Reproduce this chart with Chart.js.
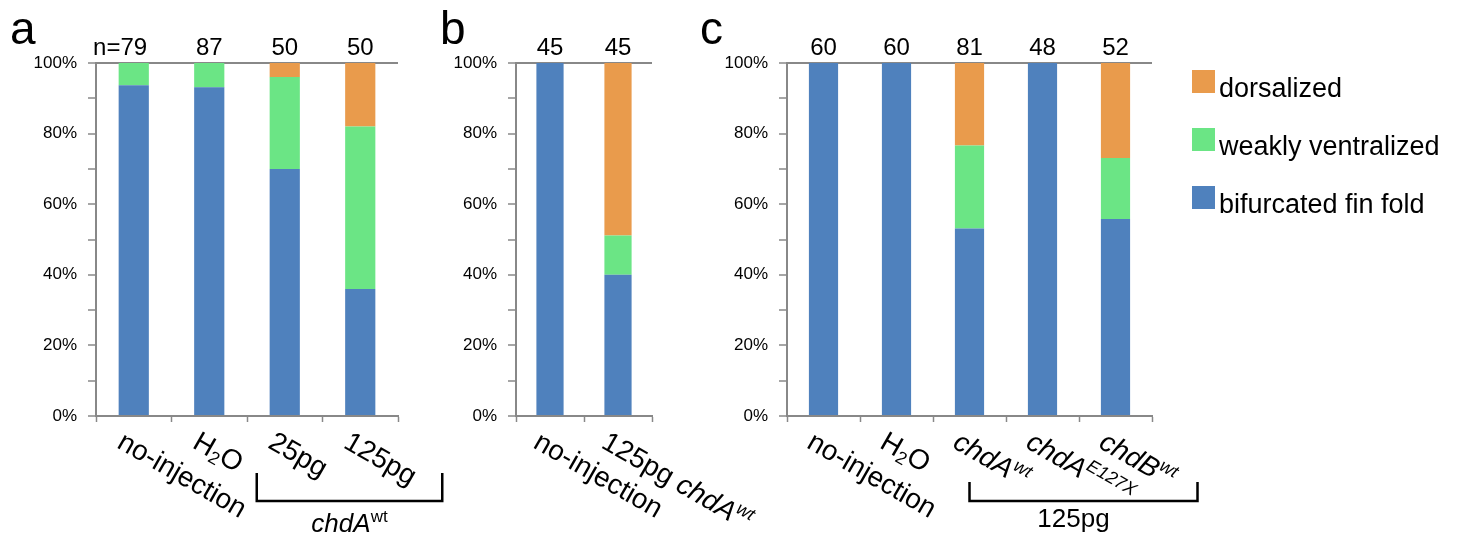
<!DOCTYPE html>
<html>
<head>
<meta charset="utf-8">
<script src="https://cdn.jsdelivr.net/npm/chart.js@4.4.1/dist/chart.umd.min.js"></script>
<style>
  body { margin: 0; background: #fff; width: 1468px; height: 539px; position: relative; overflow: hidden; }
  canvas { position: absolute; top: 0; }
</style>
</head>
<body>
<canvas id="chartA" width="450" height="539" style="left:0px"></canvas>
<canvas id="chartB" width="360" height="539" style="left:430px"></canvas>
<canvas id="chartC" width="778" height="539" style="left:690px"></canvas>
<script>
// series names (bottom to top of each stack)
var seriesNames = ["bifurcated fin fold", "weakly ventralized", "dorsalized"];
var colours = ["#4F81BD", "#6BE585", "#E99B4C"];

// panel a
var catsA = ["no-injection", "H~{2}O", "25pg", "125pg"];
var countsA = ["79", "87", "50", "50"];
var bifurcatedA = [93.7, 93.1, 70, 36];
var weaklyA = [6.3, 6.9, 26, 46];
var dorsalA = [0, 0, 4, 18];

// panel b
var catsB = ["no-injection", "125pg *chdA^{wt}*"];
var countsB = ["45", "45"];
var bifurcatedB = [100, 40];
var weaklyB = [0, 11.1];
var dorsalB = [0, 48.9];

// panel c
var catsC = ["no-injection", "H~{2}O", "*chdA^{wt}*", "*chdA^{E127X}*", "*chdB^{wt}*"];
var countsC = ["60", "60", "81", "48", "52"];
var bifurcatedC = [100, 100, 53.1, 100, 55.8];
var weaklyC = [0, 0, 23.5, 0, 17.3];
var dorsalC = [0, 0, 23.4, 0, 26.9];

var yTicks = [0, 20, 40, 60, 80, 100];

const FONT = '"Liberation Sans", Arial, sans-serif';
const AXIS = "#888888";

// tiny markup: *italic*, ^{sup}, ~{sub}
function parseRich(s) {
    var segs = [], italic = false, script = null, buf = "";
    function push() { if (buf) { segs.push({ t: buf, italic: italic, script: script }); buf = ""; } }
    for (var i = 0; i < s.length; i++) {
        var c = s[i];
        if (c === "*") { push(); italic = !italic; }
        else if ((c === "^" || c === "~") && s[i + 1] === "{") { push(); script = c === "^" ? "sup" : "sub"; i++; }
        else if (c === "}" && script) { push(); script = null; }
        else buf += c;
    }
    push();
    return segs;
}

function segFont(seg, size) {
    var sz = seg.script ? Math.round(size * 0.65) : size;
    return (seg.italic ? "italic " : "") + sz + "px " + FONT;
}

function drawRich(ctx, text, x, y, size, align) {
    var segs = parseRich(text);
    var total = 0;
    segs.forEach(function (s) { ctx.font = segFont(s, size); s.w = ctx.measureText(s.t).width; total += s.w; });
    var cx = align === "center" ? x - total / 2 : x;
    ctx.textAlign = "left";
    ctx.textBaseline = "alphabetic";
    segs.forEach(function (s) {
        ctx.font = segFont(s, size);
        var dy = s.script === "sup" ? -size * 0.4 : (s.script === "sub" ? size * 0.15 : 0);
        ctx.fillText(s.t, cx, y + dy);
        cx += s.w;
    });
}

const decoPlugin = {
    id: "deco",
    afterDraw(chart, args, o) {
        var ctx = chart.ctx, xs = chart.scales.x;
        ctx.save();
        ctx.fillStyle = "#000";

        // panel letter
        ctx.font = "46px " + FONT;
        ctx.textAlign = "left";
        ctx.textBaseline = "alphabetic";
        ctx.fillText(o.letter, 10, 44);

        // counts above bars
        ctx.font = "24px " + FONT;
        o.counts.forEach(function (n, i) {
            var px = xs.getPixelForValue(i);
            ctx.textAlign = "center";
            ctx.fillText(n, px, 55);
            if (i === 0 && o.prefix) {
                ctx.textAlign = "right";
                ctx.fillText(o.prefix, px - ctx.measureText(n).width / 2, 55);
            }
        });

        // rotated category labels
        chart.data.labels.forEach(function (lab, i) {
            var px = xs.getPixelForValue(i);
            ctx.save();
            ctx.translate(px - 18, 447);
            ctx.rotate(Math.PI / 6);
            drawRich(ctx, lab, 0, 0, 28, "left");
            ctx.restore();
        });

        // bracket under grouped categories
        if (o.bracket) {
            var b = o.bracket;
            var l = xs.getPixelForValue(b.from) + b.leftOff;
            var r = xs.getPixelForValue(b.to) + b.rightOff;
            ctx.strokeStyle = "#000";
            ctx.lineWidth = 2.5;
            ctx.beginPath();
            ctx.moveTo(l, b.top);
            ctx.lineTo(l, b.bottom);
            ctx.lineTo(r, b.bottom);
            ctx.lineTo(r, b.top);
            ctx.stroke();
            drawRich(ctx, b.text, (l + r) / 2 + b.textDx, b.textY, 26, "center");
        }

        // legend, top entry = last dataset
        if (o.legend) {
            var ds = chart.data.datasets;
            for (var k = 0; k < ds.length; k++) {
                var d = ds[ds.length - 1 - k];
                var top = o.legend.y + k * 58;
                ctx.fillStyle = d.backgroundColor;
                ctx.fillRect(o.legend.x, top, 23, 23);
                ctx.fillStyle = "#000";
                ctx.font = "27px " + FONT;
                ctx.textAlign = "left";
                ctx.fillText(d.label, o.legend.x + 27, top + 27);
            }
        }
        ctx.restore();
    }
};

function makeChart(id, cats, series, deco, yWidth, padRight) {
    var ctx = document.getElementById(id).getContext("2d");
    return new Chart(ctx, {
        type: "bar",
        data: {
            labels: cats,
            datasets: series.map(function (vals, i) {
                return {
                    label: seriesNames[i],
                    data: vals,
                    backgroundColor: colours[i],
                    borderWidth: 0,
                    barPercentage: 0.4,
                    categoryPercentage: 1
                };
            })
        },
        options: {
            responsive: false,
            animation: false,
            devicePixelRatio: 1,
            layout: { padding: { left: 0, top: 63, right: padRight, bottom: 0 } },
            plugins: {
                legend: { display: false },
                tooltip: { enabled: false },
                deco: deco
            },
            scales: {
                x: {
                    stacked: true,
                    offset: true,
                    grid: { offset: true, color: "transparent", tickColor: AXIS, tickLength: 6, tickWidth: 1.5 },
                    border: { color: AXIS, width: 2 },
                    ticks: { display: false },
                    afterFit: function (s) { s.height = 123; }
                },
                y: {
                    stacked: true,
                    min: 0,
                    max: 100,
                    grid: {
                        color: function (c) { return c.tick && c.tick.value === 100 ? AXIS : "transparent"; },
                        lineWidth: 2,
                        tickColor: AXIS,
                        tickLength: 8,
                        tickWidth: 1.5
                    },
                    border: { color: AXIS, width: 2 },
                    ticks: {
                        stepSize: 10,
                        autoSkip: false,
                        padding: 11,
                        color: "#000",
                        font: { size: 17, family: FONT },
                        callback: function (v) { return yTicks.indexOf(v) >= 0 ? v + "%" : ""; }
                    },
                    afterFit: function (s) { s.width = yWidth; }
                }
            }
        },
        plugins: [decoPlugin]
    });
}

makeChart("chartA", catsA, [bifurcatedA, weaklyA, dorsalA], {
    letter: "a", counts: countsA, prefix: "n=",
    bracket: { from: 2, to: 3, leftOff: -28, rightOff: 82, top: 473, bottom: 501, text: "*chdA*^{wt}", textDx: 0, textY: 532 }
}, 96, 52);

makeChart("chartB", catsB, [bifurcatedB, weaklyB, dorsalB], {
    letter: "b", counts: countsB
}, 86, 138);

makeChart("chartC", catsC, [bifurcatedC, weaklyC, dorsalC], {
    letter: "c", counts: countsC,
    bracket: { from: 2, to: 4, leftOff: 0, rightOff: 82, top: 482, bottom: 501, text: "125pg", textDx: -10, textY: 527 },
    legend: { x: 502, y: 70 }
}, 97, 316);
</script>
</body>
</html>
